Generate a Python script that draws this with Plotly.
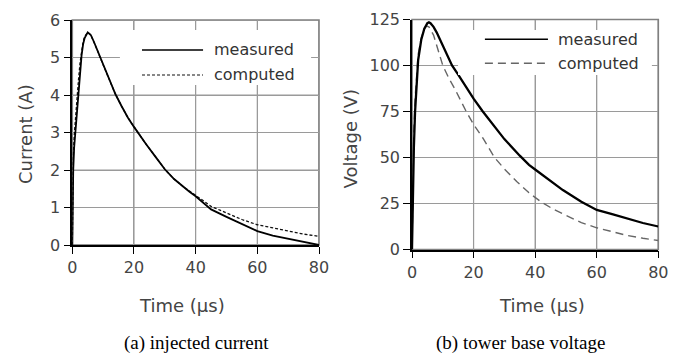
import plotly.graph_objects as go

# ---------------- data ----------------
t_cur = [0, 0.1, 0.3, 0.6, 1, 1.5, 2, 2.5, 3, 3.5, 4, 5, 6, 7, 8, 9, 10, 12, 14, 16, 18,
         20, 22, 24, 27, 30, 33, 36, 38, 40, 43, 45, 50, 55, 60, 65, 70, 75, 80]
i_meas = [0, 1.0, 2.0, 2.6, 3.0, 3.55, 4.1, 4.6, 5.05, 5.35, 5.52, 5.67, 5.6, 5.42, 5.22, 5.0,
          4.8, 4.38, 4.02, 3.7, 3.4, 3.15, 2.9, 2.68, 2.35, 2.02, 1.76, 1.54, 1.42, 1.3, 1.08,
          0.95, 0.75, 0.55, 0.37, 0.25, 0.16, 0.07, 0.0]
i_comp = [0, 1.3, 2.3, 2.9, 3.4, 3.9, 4.4, 4.85, 5.2, 5.42, 5.56, 5.67, 5.6, 5.42, 5.22, 5.0,
          4.8, 4.38, 4.02, 3.7, 3.4, 3.15, 2.9, 2.68, 2.35, 2.02, 1.76, 1.55, 1.44, 1.33, 1.15,
          1.03, 0.85, 0.68, 0.54, 0.45, 0.36, 0.29, 0.23]

t_vm = [0, 0.3, 0.6, 1, 1.5, 2, 3, 4, 5, 5.5, 6, 7, 8, 10, 12, 13, 15, 17, 20, 23, 26, 30,
        35, 38, 40, 45, 49, 55, 60, 65, 71, 75, 80]
v_meas = [0, 30, 55, 75, 92, 103, 114, 120, 123, 123.5, 123, 121, 118, 111, 103.5, 100, 95,
          89.5, 82, 75, 68.5, 60, 51, 46, 43.5, 37.3, 32.3, 25.9, 21.5, 19.2, 16.1, 14.4, 12.5]

t_vc = [0, 0.3, 0.6, 1, 1.5, 2, 3, 4, 4.7, 5.5, 7, 8.5, 10, 12, 14, 17.6, 20, 23, 26.8, 30,
        34, 38, 42, 46, 50, 55, 60, 65, 70, 75, 80]
v_comp = [0, 40, 65, 82, 97, 106, 115, 120, 121.4, 121, 116.5, 108.5, 100, 93, 87, 75, 68,
          60.6, 50, 43.8, 37, 30.8, 25.8, 21.8, 18.5, 14.6, 11.8, 9.5, 7.6, 6.1, 4.9]

x_ticks = [0, 20, 40, 60, 80]
i_ticks = [0, 1, 2, 3, 4, 5, 6]
v_ticks = [0, 25, 50, 75, 100, 125]

# page body offset (browser default margin) compensation, in px
OFFX = 8
OFFY = 3
W, H = 681, 356


def px(x):
    return (x - OFFX) / W


def py(y):
    return (H - (y - OFFY)) / H


# ---------------- figure ----------------
fig = go.Figure()
fig.add_trace(go.Scatter(x=t_cur, y=i_comp, mode="lines", xaxis="x", yaxis="y",
                         line=dict(color="#111111", width=1.3, dash="3px,2px")))
fig.add_trace(go.Scatter(x=t_cur, y=i_meas, mode="lines", xaxis="x", yaxis="y",
                         line=dict(color="#000000", width=1.8)))
fig.add_trace(go.Scatter(x=t_vc, y=v_comp, mode="lines", xaxis="x2", yaxis="y2",
                         line=dict(color="#666666", width=1.4, dash="8px,5px")))
fig.add_trace(go.Scatter(x=t_vm, y=v_meas, mode="lines", xaxis="x2", yaxis="y2",
                         line=dict(color="#000000", width=2.3)))

GRID = "#9a9a9a"
tickfont = dict(family="DejaVu Sans", size=16, color="#444444")
common = dict(showgrid=True, gridcolor=GRID, gridwidth=1.2, zeroline=False,
              showline=True, linecolor="#000000", linewidth=1.6,
              ticks="outside", ticklen=7, tickcolor="#000000", tickwidth=1.3,
              tickfont=tickfont, fixedrange=True)

fig.update_layout(
    width=W, height=H, margin=dict(l=0, r=0, t=0, b=0, autoexpand=False),
    paper_bgcolor="white", plot_bgcolor="white", showlegend=False,
    xaxis=dict(domain=[px(72.3), px(319)], range=[0, 80], tickvals=x_ticks,
               anchor="y", **common),
    yaxis=dict(domain=[py(240), py(15)], range=[0, 6], tickvals=i_ticks,
               anchor="x", ticksuffix="  ", **common),
    xaxis2=dict(domain=[px(412), px(658.3)], range=[0, 80], tickvals=x_ticks,
                anchor="y2", **common),
    yaxis2=dict(domain=[py(244.5), py(14.5)], range=[0, 125], tickvals=v_ticks,
                anchor="x2", ticksuffix="   ", **common),
)

shapes = []
# grid lines at the tick positions (drawn as shapes too, so they always show)
for xa, ya, yt in [("x", "y", i_ticks), ("x2", "y2", v_ticks)]:
    for xv in x_ticks:
        shapes.append(dict(type="line", xref=xa, yref=ya + " domain", x0=xv, x1=xv,
                           y0=0, y1=1, line=dict(color=GRID, width=1.2), layer="below"))
    for yv in yt:
        shapes.append(dict(type="line", xref=xa + " domain", yref=ya, x0=0, x1=1,
                           y0=yv, y1=yv, line=dict(color=GRID, width=1.2), layer="below"))

for xr, yr, box in [("x domain", "y domain", (0.193, 0.711, 0.968, 0.956)),
                    ("x2 domain", "y2 domain", (0.187, 0.759, 0.974, 0.954))]:
    shapes.append(dict(type="rect", xref=xr, yref=yr, x0=0, y0=0, x1=1, y1=1,
                       line=dict(color="#808080", width=1.6), layer="below"))
    shapes.append(dict(type="rect", xref=xr, yref=yr, x0=box[0], y0=box[1], x1=box[2],
                       y1=box[3], fillcolor="white", line=dict(width=0), layer="above"))

legend_font = dict(family="DejaVu Sans", size=16, color="#333333")
annotations = []
leg = [("x domain", "y domain", 0.2825, 0.530, 0.568, 0.8667, 0.7556,
        dict(color="#000000", width=1.6), dict(color="#111111", width=1.2, dash="3px,2px")),
       ("x2 domain", "y2 domain", 0.296, 0.552, 0.585, 0.914, 0.81,
        dict(color="#000000", width=1.6), dict(color="#666666", width=1.4, dash="8px,5px"))]
for xr, yr, lx0, lx1, tx, ym, yc, lm, lc in leg:
    shapes.append(dict(type="line", xref=xr, yref=yr, x0=lx0, x1=lx1, y0=ym, y1=ym,
                       line=lm, layer="above"))
    shapes.append(dict(type="line", xref=xr, yref=yr, x0=lx0, x1=lx1, y0=yc, y1=yc,
                       line=lc, layer="above"))
    annotations.append(dict(xref=xr, yref=yr, x=tx, y=ym, text="measured", showarrow=False,
                            xanchor="left", yanchor="middle", font=legend_font))
    annotations.append(dict(xref=xr, yref=yr, x=tx, y=yc, text="computed", showarrow=False,
                            xanchor="left", yanchor="middle", font=legend_font))

title_font = dict(family="DejaVu Sans", size=18, color="#444444")
annotations += [
    dict(xref="paper", yref="paper", x=px(181.7), y=py(300), text="Time (µs)",
         showarrow=False, xanchor="center", yanchor="middle", font=title_font),
    dict(xref="paper", yref="paper", x=px(542), y=py(300), text="Time (µs)",
         showarrow=False, xanchor="center", yanchor="middle", font=title_font),
    dict(xref="paper", yref="paper", x=px(26), y=py(129), text="Current (A)",
         textangle=-90, showarrow=False, xanchor="center", yanchor="middle", font=title_font),
    dict(xref="paper", yref="paper", x=px(350.5), y=py(134), text="Voltage (V)",
         textangle=-90, showarrow=False, xanchor="center", yanchor="middle", font=title_font),
    dict(xref="paper", yref="paper", x=px(196), y=py(338), text="(a) injected current",
         showarrow=False, xanchor="center", yanchor="middle",
         font=dict(family="Liberation Serif", size=19, color="#000000")),
    dict(xref="paper", yref="paper", x=px(520), y=py(338), text="(b) tower base voltage",
         showarrow=False, xanchor="center", yanchor="middle",
         font=dict(family="Liberation Serif", size=19, color="#000000")),
]
fig.update_layout(shapes=shapes, annotations=annotations)

fig.write_html("out.html")
